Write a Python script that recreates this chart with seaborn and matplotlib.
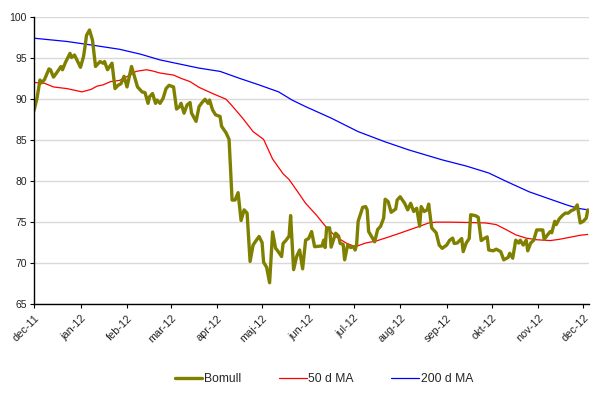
import pandas as pd
import numpy as np
import seaborn as sns
import matplotlib.pyplot as plt
import matplotlib.dates as mdates

# cotton price (Bomull) with 50 and 200 day moving averages, dec-11 .. dec-12
bomull_dates = [
    "2011-12-01", "2011-12-03", "2011-12-05", "2011-12-06", "2011-12-08", "2011-12-11",
    "2011-12-12", "2011-12-14", "2011-12-16", "2011-12-19", "2011-12-20", "2011-12-22",
    "2011-12-25", "2011-12-26", "2011-12-28", "2012-01-01", "2012-01-03", "2012-01-04",
    "2012-01-05", "2012-01-07", "2012-01-09", "2012-01-10", "2012-01-11", "2012-01-14",
    "2012-01-16", "2012-01-17", "2012-01-19", "2012-01-22", "2012-01-24", "2012-01-26",
    "2012-01-28", "2012-01-30", "2012-02-01", "2012-02-04", "2012-02-06", "2012-02-08",
    "2012-02-11", "2012-02-13", "2012-02-15", "2012-02-16", "2012-02-18", "2012-02-20",
    "2012-02-21", "2012-02-23", "2012-02-25", "2012-02-27", "2012-02-29", "2012-03-03",
    "2012-03-05", "2012-03-07", "2012-03-08", "2012-03-10", "2012-03-12", "2012-03-14",
    "2012-03-15", "2012-03-18", "2012-03-20", "2012-03-22", "2012-03-24", "2012-03-26",
    "2012-03-27", "2012-03-29", "2012-03-31", "2012-04-03", "2012-04-04", "2012-04-07",
    "2012-04-09", "2012-04-11", "2012-04-13", "2012-04-15", "2012-04-17", "2012-04-19",
    "2012-04-21", "2012-04-23", "2012-04-25", "2012-04-27", "2012-04-29", "2012-05-01",
    "2012-05-02", "2012-05-04", "2012-05-06", "2012-05-08", "2012-05-10", "2012-05-11",
    "2012-05-14", "2012-05-15", "2012-05-17", "2012-05-19", "2012-05-20", "2012-05-22",
    "2012-05-24", "2012-05-26", "2012-05-28", "2012-05-30", "2012-06-01", "2012-06-03",
    "2012-06-05", "2012-06-10", "2012-06-11", "2012-06-12", "2012-06-13", "2012-06-15",
    "2012-06-16", "2012-06-19", "2012-06-21", "2012-06-22", "2012-06-24", "2012-06-25",
    "2012-06-27", "2012-06-29", "2012-07-01", "2012-07-02", "2012-07-03", "2012-07-04",
    "2012-07-07", "2012-07-09", "2012-07-10", "2012-07-11", "2012-07-15", "2012-07-17",
    "2012-07-19", "2012-07-21", "2012-07-22", "2012-07-24", "2012-07-26", "2012-07-29",
    "2012-07-30", "2012-08-01", "2012-08-04", "2012-08-06", "2012-08-08", "2012-08-10",
    "2012-08-12", "2012-08-14", "2012-08-15", "2012-08-17", "2012-08-19", "2012-08-20",
    "2012-08-22", "2012-08-25", "2012-08-27", "2012-08-29", "2012-09-01", "2012-09-03",
    "2012-09-05", "2012-09-06", "2012-09-08", "2012-09-11", "2012-09-12", "2012-09-14",
    "2012-09-16", "2012-09-17", "2012-09-20", "2012-09-22", "2012-09-24", "2012-09-26",
    "2012-09-28", "2012-09-29", "2012-10-02", "2012-10-04", "2012-10-07", "2012-10-09",
    "2012-10-12", "2012-10-13", "2012-10-15", "2012-10-17", "2012-10-19", "2012-10-20",
    "2012-10-22", "2012-10-24", "2012-10-25", "2012-10-27", "2012-10-29", "2012-10-31",
    "2012-11-02", "2012-11-04", "2012-11-05", "2012-11-07", "2012-11-09", "2012-11-10",
    "2012-11-12", "2012-11-13", "2012-11-15", "2012-11-17", "2012-11-19", "2012-11-21",
    "2012-11-23", "2012-11-25", "2012-11-27", "2012-11-29", "2012-12-01", "2012-12-03",
    "2012-12-04",
]
bomull_values = [
    88.6, 90.1, 92.35, 92.0, 92.4, 93.7,
    93.6, 92.7, 93.2, 94.0, 93.6, 94.5,
    95.6, 95.1, 95.4, 93.9, 95.2, 96.4,
    97.8, 98.45, 97.2, 95.6, 94.0, 94.6,
    94.4, 94.6, 93.6, 94.4, 91.3, 91.7,
    91.9, 92.8, 91.5, 94.0, 92.75, 91.5,
    90.9, 90.8, 89.5, 90.3, 90.7, 89.5,
    89.9, 89.5, 90.1, 91.3, 91.7, 91.5,
    88.8, 89.1, 89.5, 88.3, 89.3, 89.6,
    88.3, 87.3, 89.1, 89.6, 90.0, 89.5,
    89.9, 88.7, 88.1, 87.9, 86.7, 85.9,
    85.1, 77.7, 77.7, 78.6, 75.2, 76.5,
    76.1, 70.2, 72.2, 72.75, 73.25, 72.5,
    70.1, 69.5, 67.6, 73.8, 71.8, 71.6,
    70.8, 72.4, 72.8, 73.3, 75.8, 69.2,
    70.8, 71.6, 69.3, 72.8, 73.0, 73.85,
    72.0, 72.1, 72.8, 71.9, 74.3, 74.3,
    71.95, 73.65, 73.3, 72.4, 72.3, 70.4,
    72.2, 71.9, 72.0, 71.6, 72.3, 75.1,
    76.8, 76.9, 76.5, 73.85, 72.6, 74.1,
    74.5, 75.5, 77.8, 77.5, 76.2, 76.6,
    77.7, 78.1, 77.3, 76.5, 77.3, 76.3,
    76.7, 74.5, 76.9, 76.3, 76.5, 77.2,
    74.3, 73.7, 72.2, 71.8, 72.2, 72.8,
    73.05, 72.4, 72.45, 73.0, 71.4, 72.45,
    73.0, 75.9, 75.8, 75.6, 72.75, 73.0,
    73.2, 71.6, 71.5, 71.7, 71.4, 70.4,
    70.7, 71.2, 70.6, 72.8, 72.45, 72.8,
    72.2, 72.8, 71.5, 72.45, 72.8, 74.05,
    74.05, 74.05, 72.9, 73.4, 73.85, 73.7,
    75.1, 74.7, 75.4, 75.8, 76.1, 76.1,
    76.4, 76.55, 77.1, 74.9, 75.1, 75.5,
    76.5,
]

ma50_dates = [
    "2011-12-01", "2011-12-08", "2011-12-14", "2011-12-23", "2012-01-02", "2012-01-08",
    "2012-01-12", "2012-01-16", "2012-01-21", "2012-01-27", "2012-02-03", "2012-02-07",
    "2012-02-14", "2012-02-18", "2012-02-23", "2012-03-03", "2012-03-08", "2012-03-14",
    "2012-03-20", "2012-03-29", "2012-04-07", "2012-04-11", "2012-04-18", "2012-04-25",
    "2012-05-02", "2012-05-08", "2012-05-15", "2012-05-19", "2012-05-24", "2012-05-30",
    "2012-06-06", "2012-06-12", "2012-06-19", "2012-06-26", "2012-07-02", "2012-07-09",
    "2012-07-16", "2012-07-22", "2012-07-31", "2012-08-07", "2012-08-14", "2012-08-20",
    "2012-08-25", "2012-09-03", "2012-09-17", "2012-09-27", "2012-10-04", "2012-10-11",
    "2012-10-17", "2012-10-24", "2012-10-31", "2012-11-09", "2012-11-15", "2012-11-22",
    "2012-11-29", "2012-12-04",
]
ma50_values = [
    92.05, 91.95, 91.5, 91.3, 90.9, 91.2,
    91.6, 91.75, 92.15, 92.3, 92.95, 93.4,
    93.6, 93.45, 93.2, 92.95, 92.55, 92.15,
    91.45, 90.7, 90.0, 89.2, 87.7, 86.05,
    85.1, 82.7, 80.9, 80.2, 78.9, 77.3,
    75.9, 74.55, 73.25, 72.45, 72.0, 72.45,
    72.7, 73.05, 73.6, 74.05, 74.5, 74.9,
    75.0, 75.0, 74.95, 74.9, 74.7, 74.05,
    73.45, 73.05, 72.85, 72.75, 72.9, 73.15,
    73.4, 73.5,
]

ma200_dates = [
    "2011-12-01", "2011-12-23", "2012-01-09", "2012-01-27", "2012-02-10", "2012-02-23",
    "2012-03-07", "2012-03-20", "2012-04-03", "2012-04-16", "2012-04-29", "2012-05-12",
    "2012-05-21", "2012-05-30", "2012-06-16", "2012-07-04", "2012-07-22", "2012-08-07",
    "2012-08-29", "2012-09-14", "2012-09-29", "2012-10-11", "2012-10-26", "2012-11-09",
    "2012-11-20", "2012-11-27", "2012-12-04",
]
ma200_values = [
    97.45, 97.05, 96.6, 96.1, 95.5, 94.8,
    94.3, 93.8, 93.4, 92.55, 91.75, 90.9,
    89.9, 89.1, 87.7, 86.05, 84.8, 83.8,
    82.6, 81.85, 81.0, 79.95, 78.7, 77.8,
    77.1, 76.7, 76.5,
]

month_labels = ["dec-11", "jan-12", "feb-12", "mar-12", "apr-12", "maj-12", "jun-12",
                "jul-12", "aug-12", "sep-12", "okt-12", "nov-12", "dec-12"]

sns.set_style("white")
plt.rcParams["font.family"] = ["Liberation Sans", "DejaVu Sans"]

fig = plt.figure(figsize=(6.1, 3.98), dpi=100)
ax = fig.add_axes([0.0557, 0.236, 0.9103, 0.7205])

ax.yaxis.grid(True, color="#d9d9d9", linewidth=1)
ax.set_axisbelow(True)

sns.lineplot(x=pd.to_datetime(ma200_dates), y=ma200_values, color="#0000ff",
             linewidth=0.9, label="200 d MA", ax=ax)
sns.lineplot(x=pd.to_datetime(ma50_dates), y=ma50_values, color="#ff0000",
             linewidth=0.9, label="50 d MA", ax=ax)
sns.lineplot(x=pd.to_datetime(bomull_dates), y=bomull_values, color="#808000",
             linewidth=2.4, label="Bomull", ax=ax)

ax.set_ylim(65, 100)
ax.set_yticks(np.arange(65, 101, 5))
ax.set_xlim(pd.Timestamp("2011-12-01"), pd.Timestamp("2012-12-05"))
ticks = pd.date_range("2011-12-01", "2012-12-01", freq="MS")
ax.set_xticks(ticks)
ax.set_xticklabels(month_labels, rotation=45, ha="right", rotation_mode="anchor")
ax.set_xlabel("")
ax.set_ylabel("")

for s in ["top", "right"]:
    ax.spines[s].set_visible(False)
for s in ["left", "bottom"]:
    ax.spines[s].set_color("black")
    ax.spines[s].set_linewidth(1)
ax.tick_params(axis="both", which="both", direction="out", length=3, width=0.8,
               color="black", labelsize=7.5, labelcolor="#222222", pad=2)
ax.tick_params(axis="x", bottom=True, pad=3.5, labelsize=7.8)
ax.tick_params(axis="y", left=True)

handles, labels = ax.get_legend_handles_labels()
order = [2, 1, 0]
ax.legend([handles[i] for i in order], [labels[i] for i in order],
          loc="lower center", bbox_to_anchor=(0.531, 0.005), bbox_transform=fig.transFigure,
          ncol=3, frameon=False, fontsize=8.7, handlelength=2.3, handletextpad=0.15,
          columnspacing=3.1)

fig.savefig("out.png", dpi=100)
